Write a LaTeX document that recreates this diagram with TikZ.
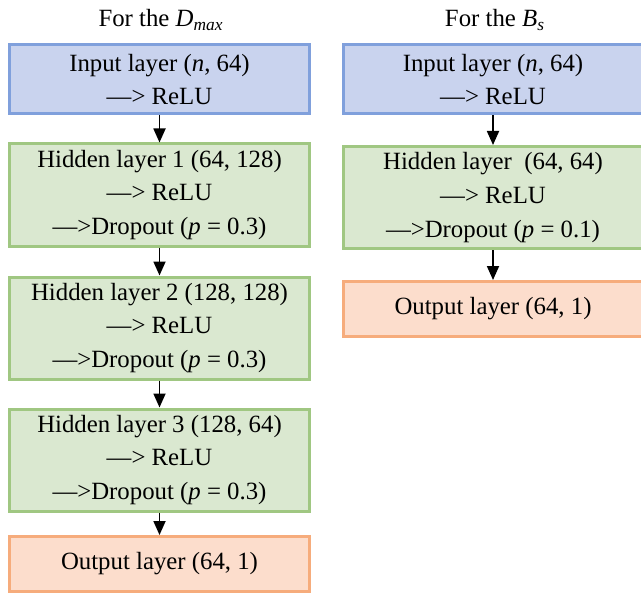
\documentclass[tikz,border=0pt]{standalone}
\usepackage{fontspec}
\setmainfont{Liberation Serif}
\usepackage{tikz}
\usetikzlibrary{arrows.meta, positioning}

\definecolor{inFill}{RGB}{201,211,238}
\definecolor{inLine}{RGB}{128,160,220}
\definecolor{hidFill}{RGB}{218,232,208}
\definecolor{hidLine}{RGB}{160,199,130}
\definecolor{outFill}{RGB}{252,221,204}
\definecolor{outLine}{RGB}{246,172,124}

\begin{document}
\begin{tikzpicture}[x=0.5pt, y=-0.5pt,
  every node/.style={font=\fontsize{12.4pt}{16.8pt}\selectfont},
  inbox/.style={rectangle, draw=inLine, fill=inFill, line width=1.5pt,
              minimum width=150pt, minimum height=34.5pt, align=center, inner sep=0pt},
  hidbox/.style={rectangle, draw=hidLine, fill=hidFill, line width=1.5pt,
              minimum width=150pt, minimum height=51pt, align=center, inner sep=0pt},
  outbox/.style={rectangle, draw=outLine, fill=outFill, line width=1.5pt,
              minimum width=150pt, minimum height=27.5pt, align=center, inner sep=0pt},
  arrow/.style={-{Triangle[length=7pt, width=6pt]}, line width=0.9pt},
]
\useasboundingbox (0,0) rectangle (641,593);

% left network
\node (titleD) at (161, 20) {For the \textit{D}\textsubscript{\textit{max}}};
\node[inbox]  (inD)   at (159.5, 79.5) {Input layer (\textit{n}, 64)\\—> ReLU};
\node[hidbox] (hidD1) at (159.5, 195)  {Hidden layer 1 (64, 128)\\—> ReLU\\—>Dropout (\textit{p} = 0.3)};
\node[hidbox] (hidD2) at (159.5, 328)  {Hidden layer 2 (128, 128)\\—> ReLU\\—>Dropout (\textit{p} = 0.3)};
\node[hidbox] (hidD3) at (159.5, 460)  {Hidden layer 3 (128, 64)\\—> ReLU\\—>Dropout (\textit{p} = 0.3)};
\node[outbox] (outD)  at (159.5, 564)  {Output layer (64, 1)};

% right network
\node (titleB) at (495, 20) {For the \textit{B}\textsubscript{\textit{s}}};
\node[inbox]  (inB)  at (493, 79.5) {Input layer (\textit{n}, 64)\\—> ReLU};
\node[hidbox] (hidB) at (493, 197.5) {Hidden layer\ \ (64, 64)\\—> ReLU\\—>Dropout (\textit{p} = 0.1)};
\node[outbox] (outB) at (493, 309)  {Output layer (64, 1)};

\draw[arrow] (inD)   -- (hidD1);
\draw[arrow] (hidD1) -- (hidD2);
\draw[arrow] (hidD2) -- (hidD3);
\draw[arrow] (hidD3) -- (outD);
\draw[arrow] (inB)   -- (hidB);
\draw[arrow] (hidB)  -- (outB);
\end{tikzpicture}
\end{document}
